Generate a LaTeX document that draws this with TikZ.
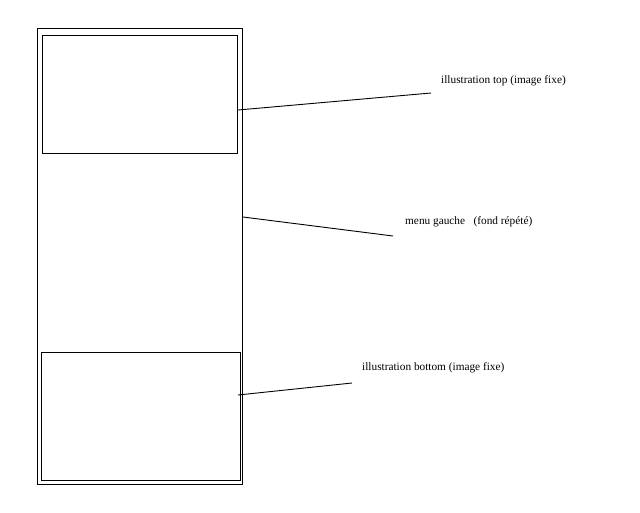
\documentclass[tikz,border=0pt]{standalone}
\usepackage{fontspec}
\setmainfont{Liberation Serif}
\begin{document}
\begin{tikzpicture}[x=1pt,y=-1pt,
  box/.style={draw,line width=1pt},
  lbl/.style={anchor=west,inner sep=0pt,font=\fontsize{11.3}{13}\selectfont},
  lead/.style={line width=0.9pt}]
\useasboundingbox (0,0) rectangle (640,512);
\draw[box] (37.5,28) rectangle (242.5,484);
\draw[box] (42.5,35) rectangle (237.5,153);
\draw[box] (41.5,352.5) rectangle (240,480);
\coordinate (s1) at (238,110);
\coordinate (e1) at (431,93);
\coordinate (s2) at (243,217);
\coordinate (e2) at (393,236);
\coordinate (s3) at (238,395);
\coordinate (e3) at (352,383);
\node[lbl] (t1) at (441,81) {illustration top (image fixe)};
\node[lbl] (t2) at (405,222) {menu gauche\ \ \ (fond répété)};
\node[lbl] (t3) at (362,368) {illustration bottom (image fixe)};
\draw[lead] (s1) -- (e1);
\draw[lead] (s2) -- (e2);
\draw[lead] (s3) -- (e3);
\end{tikzpicture}
\end{document}
